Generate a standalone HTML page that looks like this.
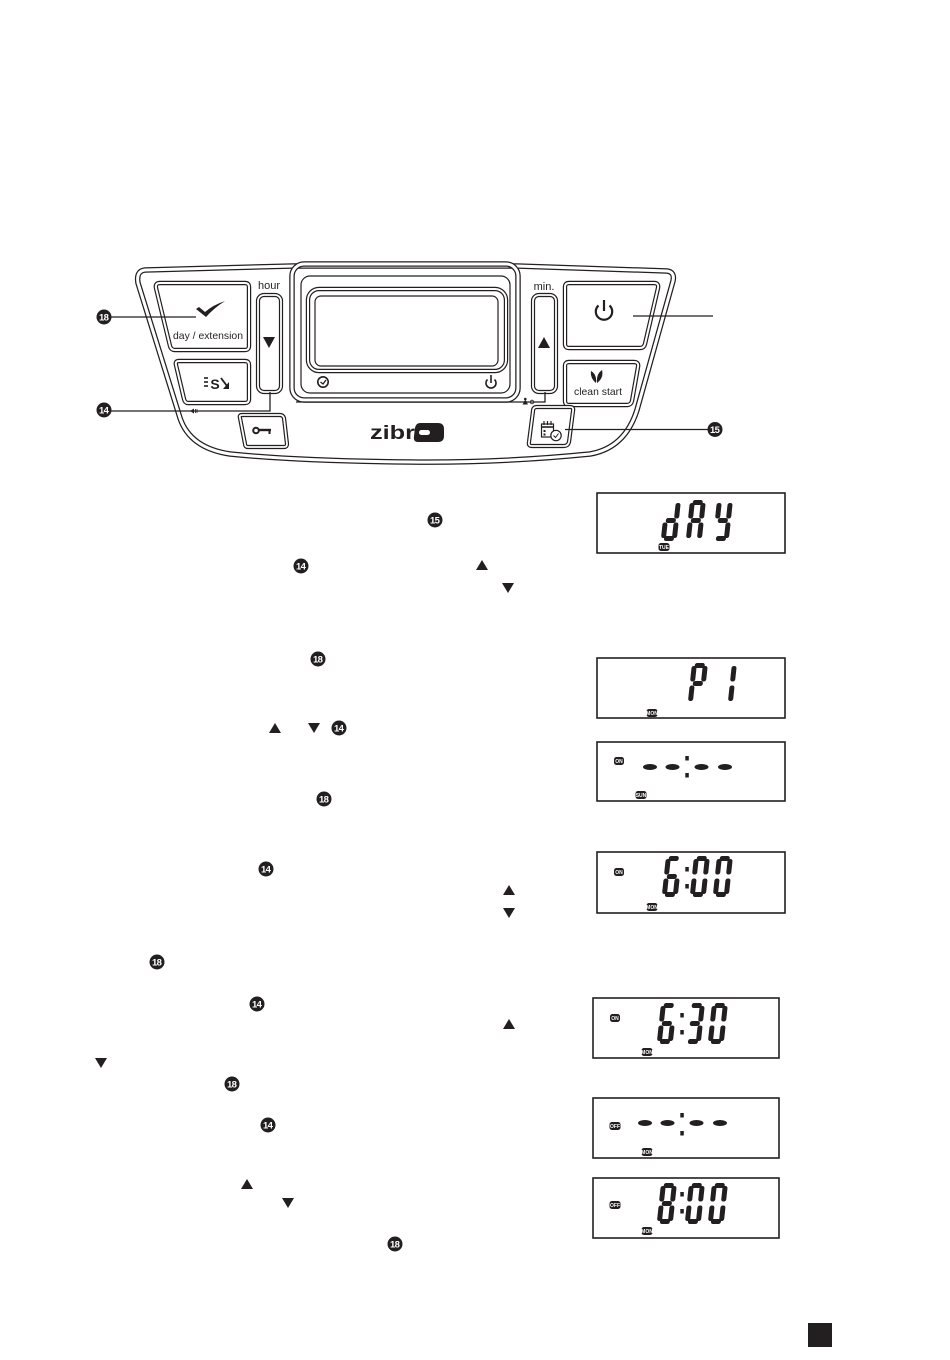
<!DOCTYPE html>
<html>
<head>
<meta charset="utf-8">
<style>
html,body{margin:0;padding:0;background:#fff;}
svg{display:block;}
text{font-family:"Liberation Sans",sans-serif;}
</style>
</head>
<body>
<svg width="950" height="1360" viewBox="0 0 950 1360" xmlns="http://www.w3.org/2000/svg">
<rect width="950" height="1360" fill="#fff"/>

<!-- ===== CONTROL PANEL ===== -->
<path d="M145,270 L293,266 L517,266 L667,271 Q675,272 673,281 L637,410 Q625,448 590,454 Q500,463 410,462 Q300,461 230,454 Q190,448 180,418 L138,283 Q136,271 145,270 Z" fill="none" stroke="#231f20" stroke-width="5.5"/>
<path d="M145,270 L293,266 L517,266 L667,271 Q675,272 673,281 L637,410 Q625,448 590,454 Q500,463 410,462 Q300,461 230,454 Q190,448 180,418 L138,283 Q136,271 145,270 Z" fill="none" stroke="#fff" stroke-width="3"/>

<!-- display housing -->
<rect x="292" y="264" width="226" height="136" rx="12" fill="none" stroke="#231f20" stroke-width="5.5"/>
<rect x="292" y="264" width="226" height="136" rx="12" fill="none" stroke="#fff" stroke-width="3"/>
<rect x="301" y="276" width="209" height="117" rx="9" fill="none" stroke="#231f20" stroke-width="1.2"/>
<rect x="308" y="289" width="198" height="82" rx="11" fill="none" stroke="#231f20" stroke-width="4.4"/>
<rect x="308" y="289" width="198" height="82" rx="11" fill="none" stroke="#fff" stroke-width="2"/>
<rect x="315" y="296" width="183" height="70" rx="6" fill="none" stroke="#231f20" stroke-width="1.2"/>
<circle cx="323" cy="382" r="5.2" fill="none" stroke="#231f20" stroke-width="1.6"/>
<path d="M320.5,382 L323,384 L326,380" fill="none" stroke="#231f20" stroke-width="1.3"/>
<path d="M487.5,379.5 A5,5 0 1 0 494.5,379.5" fill="none" stroke="#231f20" stroke-width="1.6"/>
<line x1="491" y1="375" x2="491" y2="383" stroke="#231f20" stroke-width="1.6"/>

<!-- day / extension button -->
<path d="M160,283 L245,283 Q249,283 249,287 L249,346 Q249,350 245,350 L175,350 Q171,350 170,346 L156,288 Q155,283 160,283 Z" fill="none" stroke="#231f20" stroke-width="4.4"/>
<path d="M160,283 L245,283 Q249,283 249,287 L249,346 Q249,350 245,350 L175,350 Q171,350 170,346 L156,288 Q155,283 160,283 Z" fill="none" stroke="#fff" stroke-width="2"/>
<path d="M196,309 L199,307 L205,312 Q213,305 225,301 Q214,308 206,317 Z" fill="#231f20"/>
<text x="208" y="339" font-size="10.5" text-anchor="middle" fill="#231f20" textLength="70" lengthAdjust="spacingAndGlyphs">day / extension</text>

<!-- S button -->
<path d="M179,361 L245,361 Q249,361 249,365 L249,399 Q249,403 245,403 L188,403 Q185,403 184,399 L176,365 Q175,361 179,361 Z" fill="none" stroke="#231f20" stroke-width="4.4"/>
<path d="M179,361 L245,361 Q249,361 249,365 L249,399 Q249,403 245,403 L188,403 Q185,403 184,399 L176,365 Q175,361 179,361 Z" fill="none" stroke="#fff" stroke-width="2"/>
<line x1="204" y1="378" x2="208" y2="378" stroke="#231f20" stroke-width="1.6"/>
<line x1="204" y1="382" x2="208" y2="382" stroke="#231f20" stroke-width="1.6"/>
<line x1="204" y1="386" x2="208" y2="386" stroke="#231f20" stroke-width="1.6"/>
<text x="215" y="389" font-size="14" font-weight="bold" text-anchor="middle" fill="#231f20">S</text>
<path d="M221,378 L227,386" stroke="#231f20" stroke-width="1.8"/>
<path d="M229,382 L229,389 L223,389 Z" fill="#231f20"/>
<path d="M190,411 L194,408.5 L194,413.5 Z" fill="#231f20"/>
<line x1="195.5" y1="409" x2="195.5" y2="413" stroke="#231f20" stroke-width="0.8"/>
<line x1="197" y1="409" x2="197" y2="413" stroke="#231f20" stroke-width="0.8"/>

<!-- hour -->
<text x="269" y="289" font-size="11" text-anchor="middle" fill="#231f20">hour</text>
<rect x="258" y="295" width="23" height="97" rx="6" fill="none" stroke="#231f20" stroke-width="4.2"/>
<rect x="258" y="295" width="23" height="97" rx="6" fill="none" stroke="#fff" stroke-width="1.8"/>
<path d="M263,337 L275,337 L269,348 Z" fill="#231f20"/>

<!-- key button -->
<path d="M242,415 L280,415 Q283,415 284,418 L287,444 Q287,447 284,447 L248,447 Q245,447 245,444 L240,418 Q239,415 242,415 Z" fill="none" stroke="#231f20" stroke-width="4.2"/>
<path d="M242,415 L280,415 Q283,415 284,418 L287,444 Q287,447 284,447 L248,447 Q245,447 245,444 L240,418 Q239,415 242,415 Z" fill="none" stroke="#fff" stroke-width="1.8"/>
<circle cx="256" cy="430.5" r="2.8" fill="none" stroke="#231f20" stroke-width="2"/>
<line x1="258.5" y1="430" x2="271" y2="430" stroke="#231f20" stroke-width="2.4"/>
<line x1="269.5" y1="430" x2="269.5" y2="434" stroke="#231f20" stroke-width="2"/>

<!-- zibro logo -->
<text x="370" y="439" font-size="19" font-weight="bold" fill="#231f20" textLength="45" lengthAdjust="spacingAndGlyphs">zibr</text>
<path d="M420,423 L438,423 Q444,423 444,429 L444,436 Q444,442 438,442 L418,442 Q413,442 414,436 L415,428 Q416,423 420,423 Z" fill="#231f20"/>
<rect x="419" y="430" width="11" height="5" rx="2.5" fill="#fff"/>

<!-- min -->
<text x="544" y="290" font-size="11" text-anchor="middle" fill="#231f20">min.</text>
<rect x="533" y="295" width="23" height="97" rx="6" fill="none" stroke="#231f20" stroke-width="4.2"/>
<rect x="533" y="295" width="23" height="97" rx="6" fill="none" stroke="#fff" stroke-width="1.8"/>
<path d="M538,348 L550,348 L544,337 Z" fill="#231f20"/>
<path d="M522.5,404.5 L528,404.5 L525.3,399.5 Z" fill="#231f20"/>
<circle cx="525.3" cy="399" r="1.3" fill="#231f20"/>
<circle cx="532" cy="402" r="1.8" fill="none" stroke="#231f20" stroke-width="0.8"/>

<!-- power button -->
<path d="M569,283 L654,283 Q659,283 658,288 L645,344 Q644,348 640,348 L569,348 Q565,348 565,344 L565,287 Q565,283 569,283 Z" fill="none" stroke="#231f20" stroke-width="4.4"/>
<path d="M569,283 L654,283 Q659,283 658,288 L645,344 Q644,348 640,348 L569,348 Q565,348 565,344 L565,287 Q565,283 569,283 Z" fill="none" stroke="#fff" stroke-width="2"/>
<path d="M598.5,305.5 A8.2,8.2 0 1 0 609.5,305.5" fill="none" stroke="#231f20" stroke-width="2.2"/>
<line x1="604" y1="300" x2="604" y2="311" stroke="#231f20" stroke-width="2.2"/>

<!-- clean start button -->
<path d="M569,362 L634,362 Q639,362 638,367 L632,401 Q631,405 627,405 L569,405 Q565,405 565,401 L565,366 Q565,362 569,362 Z" fill="none" stroke="#231f20" stroke-width="4.4"/>
<path d="M569,362 L634,362 Q639,362 638,367 L632,401 Q631,405 627,405 L569,405 Q565,405 565,401 L565,366 Q565,362 569,362 Z" fill="none" stroke="#fff" stroke-width="2"/>
<path d="M596,383 Q590,378 591,371 Q597,374 596,383 Z" fill="#231f20"/>
<path d="M597,383 Q604,378 602,370 Q596,374 597,383 Z" fill="#231f20"/>
<text x="598" y="395" font-size="10.5" text-anchor="middle" fill="#231f20" textLength="48" lengthAdjust="spacingAndGlyphs">clean start</text>

<!-- timer button -->
<path d="M537,407 L570,407 Q574,407 573,411 L569,442 Q568,446 564,446 L532,446 Q528,446 529,442 L533,411 Q533,407 537,407 Z" fill="none" stroke="#231f20" stroke-width="4.2"/>
<path d="M537,407 L570,407 Q574,407 573,411 L569,442 Q568,446 564,446 L532,446 Q528,446 529,442 L533,411 Q533,407 537,407 Z" fill="none" stroke="#fff" stroke-width="1.8"/>
<rect x="541.5" y="424" width="12" height="13" fill="none" stroke="#231f20" stroke-width="1.2"/>
<line x1="541.5" y1="427" x2="553.5" y2="427" stroke="#231f20" stroke-width="1.6"/>
<line x1="544" y1="421" x2="544" y2="425" stroke="#231f20" stroke-width="1.2"/>
<line x1="547.5" y1="421" x2="547.5" y2="425" stroke="#231f20" stroke-width="1.2"/>
<line x1="551" y1="421" x2="551" y2="425" stroke="#231f20" stroke-width="1.2"/>
<rect x="543.5" y="430" width="2" height="2" fill="#231f20"/>
<rect x="543.5" y="433.5" width="2" height="2" fill="#231f20"/>
<circle cx="556" cy="435.5" r="5.2" fill="#fff" stroke="#231f20" stroke-width="1.2"/>
<path d="M553.5,435.5 L555.5,437.5 L558.5,433.5" fill="none" stroke="#231f20" stroke-width="1"/>

<!-- leader lines -->
<g stroke="#231f20" stroke-width="1.3" fill="none">
<line x1="110" y1="317" x2="196" y2="317"/>
<path d="M110,411 L270,411 L270,392"/>
<path d="M296,402 L545,402 L545,392"/>
<line x1="633" y1="316" x2="713" y2="316"/>
<line x1="565" y1="429.5" x2="708" y2="429.5"/>
</g>

<!-- numbered circles -->
<g font-size="9.5" font-weight="bold" fill="#fff" text-anchor="middle" letter-spacing="-0.7">
<circle cx="104" cy="317" r="7.5" fill="#231f20"/><text x="103.6" y="320.5">18</text>
<circle cx="104" cy="410" r="7.5" fill="#231f20"/><text x="103.6" y="413.5">14</text>
<circle cx="715" cy="429.5" r="7.5" fill="#231f20"/><text x="714.6" y="433">15</text>
<circle cx="435" cy="520" r="7.5" fill="#231f20"/><text x="434.6" y="523.5">15</text>
<circle cx="301" cy="566" r="7.5" fill="#231f20"/><text x="300.6" y="569.5">14</text>
<circle cx="318" cy="659" r="7.5" fill="#231f20"/><text x="317.6" y="662.5">18</text>
<circle cx="339" cy="728" r="7.5" fill="#231f20"/><text x="338.6" y="731.5">14</text>
<circle cx="324" cy="799" r="7.5" fill="#231f20"/><text x="323.6" y="802.5">18</text>
<circle cx="266" cy="869" r="7.5" fill="#231f20"/><text x="265.6" y="872.5">14</text>
<circle cx="157" cy="962" r="7.5" fill="#231f20"/><text x="156.6" y="965.5">18</text>
<circle cx="257" cy="1004" r="7.5" fill="#231f20"/><text x="256.6" y="1007.5">14</text>
<circle cx="232" cy="1084" r="7.5" fill="#231f20"/><text x="231.6" y="1087.5">18</text>
<circle cx="268" cy="1125" r="7.5" fill="#231f20"/><text x="267.6" y="1128.5">14</text>
<circle cx="395" cy="1244" r="7.5" fill="#231f20"/><text x="394.6" y="1247.5">18</text>
</g>

<!-- triangles -->
<g fill="#231f20">
<path d="M476,570 L488,570 L482,560 Z"/>
<path d="M502,583 L514,583 L508,593 Z"/>
<path d="M269,733 L281,733 L275,723 Z"/>
<path d="M308,723 L320,723 L314,733 Z"/>
<path d="M503,895 L515,895 L509,885 Z"/>
<path d="M503,908 L515,908 L509,918 Z"/>
<path d="M503,1029 L515,1029 L509,1019 Z"/>
<path d="M95,1058 L107,1058 L101,1068 Z"/>
<path d="M241,1189 L253,1189 L247,1179 Z"/>
<path d="M282,1198 L294,1198 L288,1208 Z"/>
</g>

<!-- ===== LCD DISPLAYS ===== -->
<g fill="none" stroke="#231f20" stroke-width="1.6">
<rect x="597" y="493" width="188" height="60"/>
<rect x="597" y="658" width="188" height="60"/>
<rect x="597" y="742" width="188" height="59"/>
<rect x="597" y="852" width="188" height="61"/>
<rect x="593" y="998" width="186" height="60"/>
<rect x="593" y="1098" width="186" height="60"/>
<rect x="593" y="1178" width="186" height="60"/>
</g>

<g fill="#231f20">
<!-- dAY -->
<g transform="translate(665,500) skewX(-6)">
<rect x="11" y="3" width="5" height="15.5" rx="2.2"/><rect x="11" y="22.5" width="5" height="15.5" rx="2.2"/><rect x="3" y="36" width="10" height="5" rx="2.2"/><rect x="0" y="22.5" width="5" height="15.5" rx="2.2"/><rect x="3" y="18" width="10" height="5" rx="2.2"/>
</g>
<g transform="translate(690,500) skewX(-6)">
<rect x="3" y="0" width="10" height="5" rx="2.2"/><rect x="11" y="3" width="5" height="15.5" rx="2.2"/><rect x="11" y="22.5" width="5" height="15.5" rx="2.2"/><rect x="0" y="22.5" width="5" height="15.5" rx="2.2"/><rect x="0" y="3" width="5" height="15.5" rx="2.2"/><rect x="3" y="18" width="10" height="5" rx="2.2"/>
</g>
<g transform="translate(717,500) skewX(-6)">
<rect x="11" y="3" width="5" height="15.5" rx="2.2"/><rect x="11" y="22.5" width="5" height="15.5" rx="2.2"/><rect x="3" y="36" width="10" height="5" rx="2.2"/><rect x="0" y="3" width="5" height="15.5" rx="2.2"/><rect x="3" y="18" width="10" height="5" rx="2.2"/>
</g>

<!-- P1 -->
<g transform="translate(692,663) skewX(-6)">
<rect x="3" y="0" width="10" height="5" rx="2.2"/><rect x="11" y="3" width="5" height="15.5" rx="2.2"/><rect x="0" y="22.5" width="5" height="15.5" rx="2.2"/><rect x="0" y="3" width="5" height="15.5" rx="2.2"/><rect x="3" y="18" width="10" height="5" rx="2.2"/>
</g>
<g transform="translate(721,663) skewX(-6)">
<rect x="11" y="3" width="5" height="15.5" rx="2.2"/><rect x="11" y="22.5" width="5" height="15.5" rx="2.2"/>
</g>

<!-- --:-- (display 3) -->
<ellipse cx="650" cy="767" rx="7" ry="3"/><ellipse cx="672.5" cy="767" rx="7" ry="3"/><ellipse cx="701.5" cy="767" rx="7" ry="3"/><ellipse cx="725" cy="767" rx="7" ry="3"/>
<rect x="685.3" y="756" width="3.5" height="4.5"/><rect x="685.3" y="773" width="3.5" height="4.5"/>

<!-- 6:00 -->
<g transform="translate(666,856) skewX(-6)">
<rect x="3" y="0" width="10" height="5" rx="2.2"/><rect x="11" y="22.5" width="5" height="15.5" rx="2.2"/><rect x="3" y="36" width="10" height="5" rx="2.2"/><rect x="0" y="22.5" width="5" height="15.5" rx="2.2"/><rect x="0" y="3" width="5" height="15.5" rx="2.2"/><rect x="3" y="18" width="10" height="5" rx="2.2"/>
</g>
<rect x="685.3" y="867" width="3.5" height="4.5"/><rect x="685.3" y="884" width="3.5" height="4.5"/>
<g transform="translate(694,856) skewX(-6)">
<rect x="3" y="0" width="10" height="5" rx="2.2"/><rect x="11" y="3" width="5" height="15.5" rx="2.2"/><rect x="11" y="22.5" width="5" height="15.5" rx="2.2"/><rect x="3" y="36" width="10" height="5" rx="2.2"/><rect x="0" y="22.5" width="5" height="15.5" rx="2.2"/><rect x="0" y="3" width="5" height="15.5" rx="2.2"/>
</g>
<g transform="translate(717,856) skewX(-6)">
<rect x="3" y="0" width="10" height="5" rx="2.2"/><rect x="11" y="3" width="5" height="15.5" rx="2.2"/><rect x="11" y="22.5" width="5" height="15.5" rx="2.2"/><rect x="3" y="36" width="10" height="5" rx="2.2"/><rect x="0" y="22.5" width="5" height="15.5" rx="2.2"/><rect x="0" y="3" width="5" height="15.5" rx="2.2"/>
</g>

<!-- 6:30 -->
<g transform="translate(661,1003) skewX(-6)">
<rect x="3" y="0" width="10" height="5" rx="2.2"/><rect x="11" y="22.5" width="5" height="15.5" rx="2.2"/><rect x="3" y="36" width="10" height="5" rx="2.2"/><rect x="0" y="22.5" width="5" height="15.5" rx="2.2"/><rect x="0" y="3" width="5" height="15.5" rx="2.2"/><rect x="3" y="18" width="10" height="5" rx="2.2"/>
</g>
<rect x="680.3" y="1013" width="3.5" height="4.5"/><rect x="680.3" y="1030" width="3.5" height="4.5"/>
<g transform="translate(689,1003) skewX(-6)">
<rect x="3" y="0" width="10" height="5" rx="2.2"/><rect x="11" y="3" width="5" height="15.5" rx="2.2"/><rect x="11" y="22.5" width="5" height="15.5" rx="2.2"/><rect x="3" y="36" width="10" height="5" rx="2.2"/><rect x="3" y="18" width="10" height="5" rx="2.2"/>
</g>
<g transform="translate(712,1003) skewX(-6)">
<rect x="3" y="0" width="10" height="5" rx="2.2"/><rect x="11" y="3" width="5" height="15.5" rx="2.2"/><rect x="11" y="22.5" width="5" height="15.5" rx="2.2"/><rect x="3" y="36" width="10" height="5" rx="2.2"/><rect x="0" y="22.5" width="5" height="15.5" rx="2.2"/><rect x="0" y="3" width="5" height="15.5" rx="2.2"/>
</g>

<!-- --:-- (display 6) -->
<ellipse cx="645" cy="1123" rx="7" ry="3"/><ellipse cx="667.5" cy="1123" rx="7" ry="3"/><ellipse cx="696.5" cy="1123" rx="7" ry="3"/><ellipse cx="720" cy="1123" rx="7" ry="3"/>
<rect x="680.3" y="1113" width="3.5" height="4.5"/><rect x="680.3" y="1131" width="3.5" height="4.5"/>

<!-- 8:00 -->
<g transform="translate(661,1183) skewX(-6)">
<rect x="3" y="0" width="10" height="5" rx="2.2"/><rect x="11" y="3" width="5" height="15.5" rx="2.2"/><rect x="11" y="22.5" width="5" height="15.5" rx="2.2"/><rect x="3" y="36" width="10" height="5" rx="2.2"/><rect x="0" y="22.5" width="5" height="15.5" rx="2.2"/><rect x="0" y="3" width="5" height="15.5" rx="2.2"/><rect x="3" y="18" width="10" height="5" rx="2.2"/>
</g>
<rect x="680.3" y="1192" width="3.5" height="4.5"/><rect x="680.3" y="1209" width="3.5" height="4.5"/>
<g transform="translate(689,1183) skewX(-6)">
<rect x="3" y="0" width="10" height="5" rx="2.2"/><rect x="11" y="3" width="5" height="15.5" rx="2.2"/><rect x="11" y="22.5" width="5" height="15.5" rx="2.2"/><rect x="3" y="36" width="10" height="5" rx="2.2"/><rect x="0" y="22.5" width="5" height="15.5" rx="2.2"/><rect x="0" y="3" width="5" height="15.5" rx="2.2"/>
</g>
<g transform="translate(712,1183) skewX(-6)">
<rect x="3" y="0" width="10" height="5" rx="2.2"/><rect x="11" y="3" width="5" height="15.5" rx="2.2"/><rect x="11" y="22.5" width="5" height="15.5" rx="2.2"/><rect x="3" y="36" width="10" height="5" rx="2.2"/><rect x="0" y="22.5" width="5" height="15.5" rx="2.2"/><rect x="0" y="3" width="5" height="15.5" rx="2.2"/>
</g>

<!-- badges -->
<rect x="658.5" y="543" width="11" height="8" rx="2.5"/>
<rect x="646.5" y="709" width="11" height="8" rx="2.5"/>
<rect x="614" y="757" width="10" height="8" rx="2.5"/>
<rect x="635.5" y="791" width="11" height="8" rx="2.5"/>
<rect x="614" y="868" width="10" height="8" rx="2.5"/>
<rect x="646.5" y="903" width="11" height="8" rx="2.5"/>
<rect x="610" y="1014" width="10" height="8" rx="2.5"/>
<rect x="641.5" y="1048" width="11" height="8" rx="2.5"/>
<rect x="609.5" y="1122" width="11" height="8" rx="2.5"/>
<rect x="641.5" y="1148" width="11" height="8" rx="2.5"/>
<rect x="609.5" y="1201" width="11" height="8" rx="2.5"/>
<rect x="641.5" y="1227" width="11" height="8" rx="2.5"/>
</g>
<g font-size="5" font-weight="bold" fill="#fff" text-anchor="middle">
<text x="664" y="549">TUE</text>
<text x="652" y="715">MON</text>
<text x="619" y="763">ON</text>
<text x="641" y="797">SUN</text>
<text x="619" y="874">ON</text>
<text x="652" y="909">MON</text>
<text x="615" y="1020">ON</text>
<text x="647" y="1054">MON</text>
<text x="615" y="1128">OFF</text>
<text x="647" y="1154">MON</text>
<text x="615" y="1207">OFF</text>
<text x="647" y="1233">MON</text>
</g>

<!-- page marker -->
<rect x="808" y="1323" width="24" height="24" fill="#231f20"/>
</svg>
</body>
</html>
